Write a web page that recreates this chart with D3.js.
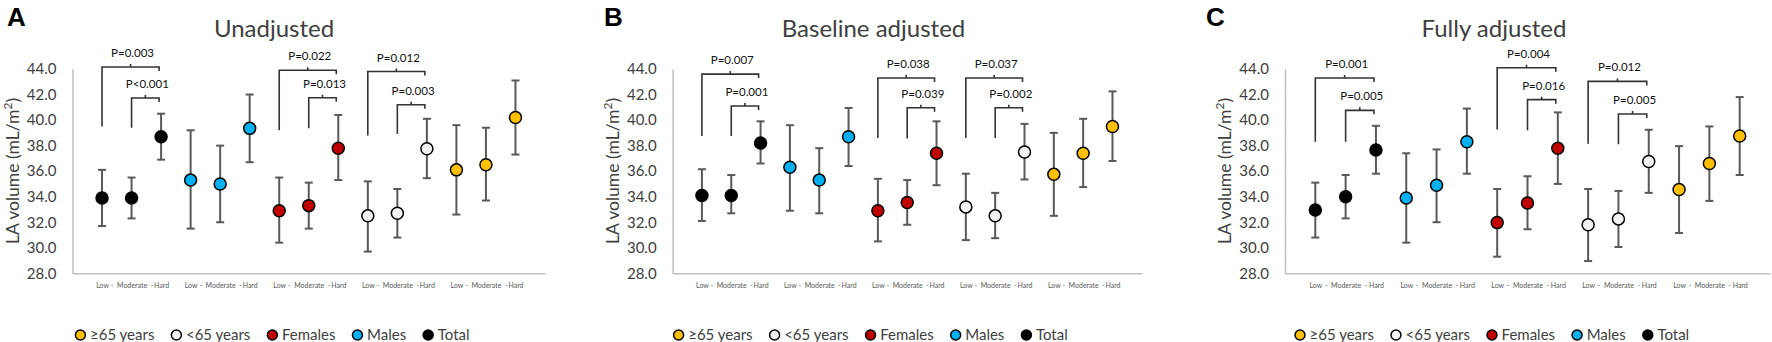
<!DOCTYPE html>
<html lang="en">
<head>
    <meta charset="UTF-8">
    <title>LA volume by exercise intensity</title>
    <script src="https://d3js.org/d3.v7.min.js"></script>
    <style>
        body { margin: 0; background: #fff; }
    </style>
</head>
<body>
    <script>
        // categories
        var groups = ["Total", "Males", "Females", "<65 years", "≥65 years"];
        var levels = ["Low", "Moderate", "Hard"];
        var tickLabels = ["Low", "-\u00a0\u00a0Moderate\u00a0\u00a0-", "Hard"];
        var yTicks = [28, 30, 32, 34, 36, 38, 40, 42, 44];
        var groupFill = ["#000000", "#00B0F0", "#C00000", "#F2F2F2", "#FFC000"];
        var legendOrder = [4, 3, 2, 1, 0];

        // Unadjusted (15 values: Total L/M/H, Males L/M/H, Females, <65, >=65)
        var meanA = [33.9, 33.9, 38.7, 35.3, 35.0, 39.35, 32.9, 33.3, 37.8, 32.5, 32.7, 37.75, 36.1, 36.5, 40.2];
        var upperA = [36.1, 35.5, 40.5, 39.2, 38.0, 42.0, 35.5, 35.1, 40.4, 35.2, 34.6, 40.1, 39.6, 39.4, 43.1];
        var lowerA = [31.7, 32.3, 36.9, 31.5, 32.0, 36.7, 30.4, 31.5, 35.3, 29.7, 30.8, 35.45, 32.6, 33.7, 37.3];

        // Baseline adjusted
        var meanB = [34.1, 34.1, 38.2, 36.3, 35.3, 38.7, 32.9, 33.55, 37.4, 33.2, 32.5, 37.5, 35.75, 37.4, 39.5];
        var upperB = [36.15, 35.7, 39.9, 39.6, 37.8, 40.95, 35.4, 35.3, 39.9, 35.8, 34.3, 39.7, 39.0, 40.1, 42.25];
        var lowerB = [32.1, 32.7, 36.6, 32.9, 32.7, 36.4, 30.5, 31.8, 34.9, 30.6, 30.75, 35.35, 32.5, 34.75, 36.8];

        // Fully adjusted
        var meanC = [32.95, 34.0, 37.65, 33.9, 34.9, 38.3, 31.97, 33.5, 37.8, 31.8, 32.26, 36.76, 34.56, 36.6, 38.75];
        var upperC = [35.1, 35.7, 39.55, 37.4, 37.7, 40.9, 34.6, 35.6, 40.6, 34.6, 34.45, 39.24, 37.96, 39.5, 41.8];
        var lowerC = [30.8, 32.3, 35.8, 30.4, 32.0, 35.8, 29.3, 31.45, 35.0, 28.96, 30.06, 34.3, 31.16, 33.67, 35.7];

        // significance brackets: [group, from level, top value, leg end value, label]
        var bracketsA = [[0, 0, 44.16, 39.5, "P=0.003"], [0, 1, 41.73, 39.4, "P<0.001"],
                         [2, 0, 43.9, 39.2, "P=0.022"], [2, 1, 41.75, 39.35, "P=0.013"],
                         [3, 0, 43.8, 38.8, "P=0.012"], [3, 1, 41.2, 38.9, "P=0.003"]];
        var bracketsB = [[0, 0, 43.6, 38.75, "P=0.007"], [0, 1, 41.1, 38.75, "P=0.001"],
                         [2, 0, 43.3, 38.6, "P=0.038"], [2, 1, 40.96, 38.56, "P=0.039"],
                         [3, 0, 43.3, 38.6, "P=0.037"], [3, 1, 40.96, 38.6, "P=0.002"]];
        var bracketsC = [[0, 0, 43.3, 38.3, "P=0.001"], [0, 1, 40.76, 38.3, "P=0.005"],
                         [2, 0, 44.1, 39.27, "P=0.004"], [2, 1, 41.6, 39.2, "P=0.016"],
                         [3, 0, 43.03, 38.14, "P=0.012"], [3, 1, 40.47, 38.1, "P=0.005"]];

        var panels = [
            { letter: "A", title: "Unadjusted", mean: meanA, upper: upperA, lower: lowerA, brackets: bracketsA,
              x0: 72.5, x1: 545, letterX: 7, titleX: 274, legendX: 80.4 },
            { letter: "B", title: "Baseline adjusted", mean: meanB, upper: upperB, lower: lowerB, brackets: bracketsB,
              x0: 672.6, x1: 1141.8, letterX: 604, titleX: 873.5, legendX: 678.6 },
            { letter: "C", title: "Fully adjusted", mean: meanC, upper: upperC, lower: lowerC, brackets: bracketsC,
              x0: 1285, x1: 1770, letterX: 1206, titleX: 1494, legendX: 1300 }
        ];

        var font = "Lato, 'Open Sans', sans-serif";
        var textColor = "#404040";

        var svg = d3.select("body").append("svg")
                    .attr("width", 1772)
                    .attr("height", 342);

        panels.forEach(function(p) {
            var g = svg.append("g");

            var y = d3.scaleLinear().domain([28, 44]).range([273.3, 69]);
            var x = d3.scalePoint().domain(d3.range(15)).range([p.x0, p.x1]).padding(1);

            // panel letter and title
            g.append("text")
             .attr("x", p.letterX).attr("y", 26)
             .attr("font-family", "'Liberation Sans', Arial, sans-serif")
             .attr("font-weight", "bold").attr("font-size", 26)
             .text(p.letter);

            g.append("text")
             .attr("x", p.titleX).attr("y", 37.3)
             .attr("text-anchor", "middle")
             .attr("font-family", font).attr("font-size", 24)
             .attr("fill", textColor)
             .text(p.title);

            // y axis
            var ya = g.append("g")
                      .attr("transform", "translate(" + p.x0 + ",0)")
                      .call(d3.axisLeft(y).tickValues(yTicks).tickFormat(d3.format(".1f"))
                              .tickSize(0).tickPadding(16));
            ya.attr("font-family", font).attr("font-size", 15);
            ya.select(".domain").attr("stroke", "#bfbfbf").attr("stroke-width", 1.5);
            ya.selectAll("text").attr("fill", textColor);

            // y axis title
            var yt = g.append("text")
                      .attr("transform", "translate(" + (p.x0 - 60) + ",171) rotate(-90)")
                      .attr("text-anchor", "middle").attr("dy", "0.35em")
                      .attr("font-family", font).attr("font-size", 17.5)
                      .attr("fill", textColor);
            yt.append("tspan").text("LA volume (mL/m");
            yt.append("tspan").attr("baseline-shift", "super").attr("font-size", 12).text("2");
            yt.append("tspan").text(")");

            // x axis
            var xa = g.append("g")
                      .attr("transform", "translate(0," + y(28) + ")")
                      .call(d3.axisBottom(x).tickSize(0).tickPadding(10)
                              .tickFormat(function(i) { return tickLabels[i % 3]; }));
            xa.attr("font-family", font).attr("font-size", 7);
            xa.select(".domain").attr("stroke", "#bfbfbf").attr("stroke-width", 1.5);
            xa.selectAll("text").attr("fill", "#595959");

            // brackets
            p.brackets.forEach(function(b) {
                var xl = x(b[0] * 3 + b[1]);
                var xr = x(b[0] * 3 + 2) - 2;
                var yt2 = y(b[2]);
                var xm = (xl + xr) / 2;
                g.append("path")
                 .attr("d", "M" + xl + "," + y(b[3]) + "V" + yt2 + "H" + xr + "v4" +
                            "M" + xm + "," + yt2 + "v-3")
                 .attr("fill", "none").attr("stroke", "#333").attr("stroke-width", 1.6);
                g.append("text")
                 .attr("x", xm + 2).attr("y", yt2 - 10)
                 .attr("text-anchor", "middle")
                 .attr("font-family", font).attr("font-size", 11.5)
                 .attr("fill", "#111")
                 .text(b[4]);
            });

            // error bars
            var bars = g.selectAll(".bar")
                        .data(d3.range(15))
                        .enter().append("g")
                        .attr("class", "bar")
                        .attr("stroke", "#595959").attr("stroke-width", 2);
            bars.append("line")
                .attr("x1", d => x(d)).attr("x2", d => x(d))
                .attr("y1", d => y(p.lower[d])).attr("y2", d => y(p.upper[d]));
            bars.append("line")
                .attr("x1", d => x(d) - 4).attr("x2", d => x(d) + 4)
                .attr("y1", d => y(p.upper[d])).attr("y2", d => y(p.upper[d]));
            bars.append("line")
                .attr("x1", d => x(d) - 4).attr("x2", d => x(d) + 4)
                .attr("y1", d => y(p.lower[d])).attr("y2", d => y(p.lower[d]));

            // points
            g.selectAll(".pt")
             .data(d3.range(15))
             .enter().append("circle")
             .attr("class", "pt")
             .attr("cx", d => x(d))
             .attr("cy", d => y(p.mean[d]))
             .attr("r", 6)
             .attr("fill", d => groupFill[Math.floor(d / 3)])
             .attr("stroke", "#000").attr("stroke-width", 1.5);

            // legend
            var cx = p.legendX;
            legendOrder.forEach(function(gi) {
                g.append("circle")
                 .attr("cx", cx).attr("cy", 335).attr("r", 5)
                 .attr("fill", groupFill[gi])
                 .attr("stroke", "#000").attr("stroke-width", 1.5);
                var t = g.append("text")
                         .attr("x", cx + 9.6).attr("y", 335).attr("dy", "0.35em")
                         .attr("font-family", font).attr("font-size", 15)
                         .attr("fill", textColor)
                         .text(groups[gi]);
                cx += 9.6 + t.node().getComputedTextLength() + 22;
            });
        });
    </script>
</body>
</html>
